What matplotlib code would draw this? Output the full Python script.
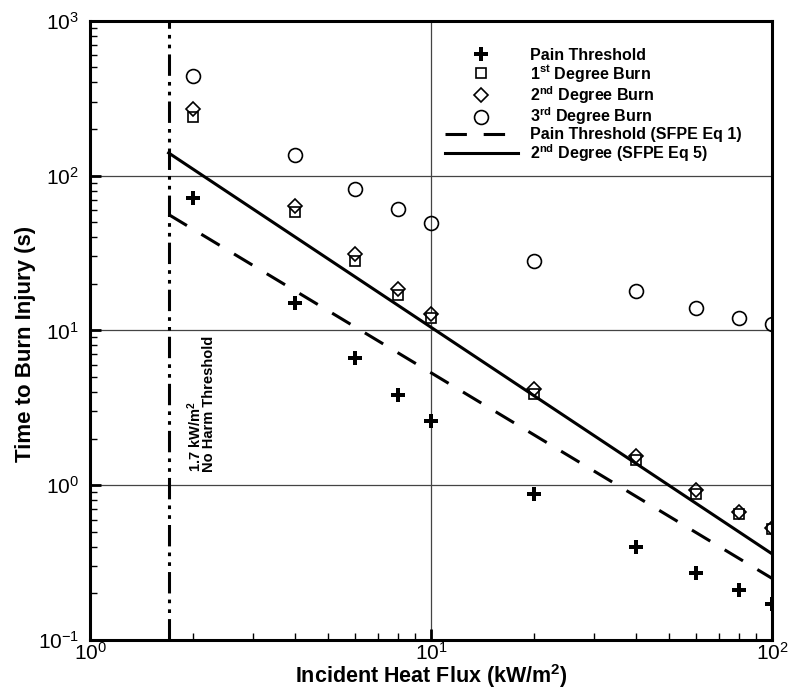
import math
import matplotlib
matplotlib.use("Agg")
import matplotlib.pyplot as plt
from matplotlib.ticker import FixedLocator, FuncFormatter, LogLocator, NullFormatter

plt.rcParams['font.family'] = ['Liberation Sans', 'DejaVu Sans']
plt.rcParams['mathtext.fontset'] = 'custom'
plt.rcParams['mathtext.rm'] = 'Liberation Sans'
plt.rcParams['mathtext.bf'] = 'Liberation Sans:bold'
plt.rcParams['mathtext.it'] = 'Liberation Sans:italic'

# heat flux levels (kW/m2)
flux = [2, 4, 6, 8, 10, 20, 40, 60, 80, 100]
pain = [72, 15, 6.6, 3.8, 2.6, 0.88, 0.40, 0.27, 0.21, 0.17]
first_deg = [240, 58, 28, 17, 12, 3.9, 1.45, 0.88, 0.65, 0.52]
second_deg = [270, 64, 31, 18.5, 12.8, 4.2, 1.55, 0.93, 0.67, 0.53]
third_deg = [440, 135, 82, 61, 49, 28, 18, 14, 12, 11]

# correlation lines (end points)
eq_flux = [1.7, 100]
eq1_pain = [56, 0.25]
eq5_second = [140, 0.36]

no_harm = 1.7

fig = plt.figure(figsize=(7.89, 6.93), dpi=100)
ax = fig.add_axes([0.1141, 0.0765, 0.8644, 0.8936])

ax.plot(flux, pain, linestyle='none', marker='P', color='black', ms=9.5, mew=0,
        label='Pain Threshold')
ax.plot(flux, first_deg, linestyle='none', marker='s', mfc='white', mec='black',
        ms=7, mew=1.2, label=r'1$^{\mathbf{st}}$ Degree Burn')
ax.plot(flux, second_deg, linestyle='none', marker='D', mfc='none', mec='black',
        ms=7.5, mew=1.2, label=r'2$^{\mathbf{nd}}$ Degree Burn')
ax.plot(flux, third_deg, linestyle='none', marker='o', mfc='none', mec='black',
        ms=10, mew=1.2, label=r'3$^{\mathbf{rd}}$ Degree Burn')
ax.plot(eq_flux, eq1_pain, color='black', lw=2.2, dashes=(7, 5.5),
        label='Pain Threshold (SFPE Eq 1)')
ax.plot(eq_flux, eq5_second, color='black', lw=2.2,
        label=r'2$^{\mathbf{nd}}$ Degree (SFPE Eq 5)')

ax.axvline(no_harm, color='black', lw=2.2, dashes=(7, 2, 1.2, 2, 1.2, 2))
ax.annotate("1.7 kW/m$^{\\mathbf{2}}$\nNo Harm Threshold", xy=(no_harm, 1.21),
            xytext=(12, 0), textcoords='offset points', rotation=90,
            fontsize=10.5, fontweight='bold', ha='left', va='bottom',
            linespacing=0.85)

ax.set_xscale('log')
ax.set_yscale('log')
ax.set_xlim(1, 100)
ax.set_ylim(0.1, 1000)

dec = lambda v, p: r'$\mathregular{10^{%d}}$' % round(math.log10(v))
ax.xaxis.set_major_locator(FixedLocator([1, 10, 100]))
ax.yaxis.set_major_locator(FixedLocator([0.1, 1, 10, 100, 1000]))
ax.xaxis.set_major_formatter(FuncFormatter(dec))
ax.yaxis.set_major_formatter(FuncFormatter(dec))
ax.xaxis.set_minor_locator(LogLocator(base=10, subs=range(2, 10)))
ax.yaxis.set_minor_locator(LogLocator(base=10, subs=range(2, 10)))
ax.xaxis.set_minor_formatter(NullFormatter())
ax.yaxis.set_minor_formatter(NullFormatter())
ax.tick_params(which='both', direction='in', top=False, right=False, labelsize=15)
ax.tick_params(which='major', length=8, width=2)
ax.tick_params(which='minor', length=5, width=1)
ax.tick_params(axis='x', pad=1.5)
ax.tick_params(axis='y', pad=8)

ax.grid(True, which='major', color='#444444', lw=0.9)
for s in ax.spines.values():
    s.set_linewidth(2.2)

ax.set_xlabel('Incident Heat Flux (kW/m$^{\\mathbf{2}}$)', fontsize=15.5,
              fontweight='bold', labelpad=-1)
ax.set_ylabel('Time to Burn Injury (s)', fontsize=16, fontweight='bold', labelpad=1)
ax.yaxis.label.set_y(0.478)

leg = ax.legend(loc='upper left', bbox_to_anchor=(0.52, 0.956), frameon=False,
                prop={'weight': 'bold', 'size': 11.5}, handlelength=4.6,
                handletextpad=0.75, labelspacing=0.0, borderaxespad=0,
                borderpad=0)

fig.savefig('out.png', dpi=100)
